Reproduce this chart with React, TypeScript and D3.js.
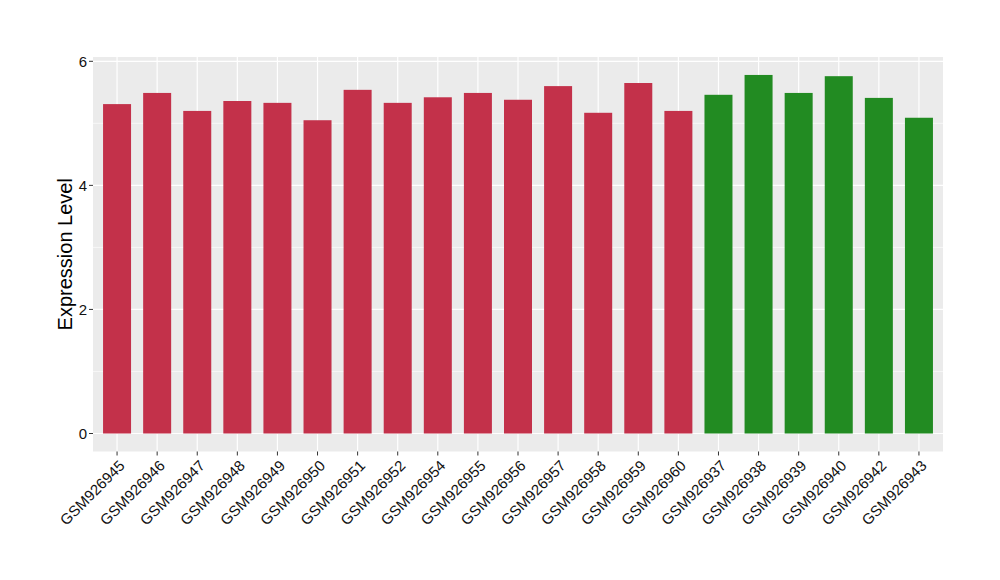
import React from "react";
import * as d3 from "d3";

const categories = ["GSM926945","GSM926946","GSM926947","GSM926948","GSM926949","GSM926950","GSM926951","GSM926952","GSM926954","GSM926955","GSM926956","GSM926957","GSM926958","GSM926959","GSM926960","GSM926937","GSM926938","GSM926939","GSM926940","GSM926942","GSM926943"];
const values = [5.31,5.49,5.20,5.36,5.33,5.05,5.54,5.33,5.42,5.49,5.38,5.60,5.17,5.65,5.20,5.46,5.78,5.49,5.76,5.41,5.09];
const groups = ["a","a","a","a","a","a","a","a","a","a","a","a","a","a","a","b","b","b","b","b","b"];
const groupColors: Record<string, string> = { a: "#C3314A", b: "#228B22" };
const yTicks = [0, 2, 4, 6];
const yMinor = [1, 3, 5];

export default function App() {
  const W = 1000, H = 580;
  const left = 93, right = 943, top = 57, bottom = 451.5;
  const n = categories.length;
  const step = (right - left) / (n + 0.2);
  const x = d3.scaleBand<string>().domain(categories).range([left + 0.6 * step - step / 2, right - 0.6 * step + step / 2]).paddingInner(0.3).paddingOuter(0.15);
  const y = d3.scaleLinear().domain([0, 6]).range([433.5, 61.3]);
  const cx = (c: string) => (x(c) as number) + x.bandwidth() / 2;
  const font = "Liberation Sans, Arial, Helvetica, sans-serif";
  return (
    <svg width={W} height={H} style={{ position: "absolute", left: 0, top: 0 }} fontFamily={font}>
      <rect x={0} y={0} width={W} height={H} fill="#fff" />
      <rect x={left} y={top} width={right - left} height={bottom - top} fill="#EBEBEB" />
      {yMinor.map(v => (
        <line key={"m" + v} x1={left} x2={right} y1={y(v)} y2={y(v)} stroke="#fff" strokeWidth={0.6} />
      ))}
      {yTicks.map(v => (
        <line key={"g" + v} x1={left} x2={right} y1={y(v)} y2={y(v)} stroke="#fff" strokeWidth={1.2} />
      ))}
      {categories.map(c => (
        <line key={"v" + c} x1={cx(c)} x2={cx(c)} y1={top} y2={bottom} stroke="#fff" strokeWidth={1.2} />
      ))}
      {categories.map((c, i) => (
        <rect key={c} x={cx(c) - 14} width={28} y={y(values[i])} height={y(0) - y(values[i])} fill={groupColors[groups[i]]} />
      ))}
      {yTicks.map(v => (
        <g key={"t" + v}>
          <line x1={left - 4} x2={left} y1={y(v)} y2={y(v)} stroke="#333" strokeWidth={1} />
          <text x={left - 6} y={y(v)} dy="0.36em" textAnchor="end" fontSize={15} fill="#111">{v}</text>
        </g>
      ))}
      {categories.map(c => (
        <g key={"x" + c}>
          <line x1={cx(c)} x2={cx(c)} y1={bottom} y2={bottom + 4} stroke="#333" strokeWidth={1} />
          <text transform={`translate(${cx(c) + 1},${bottom + 7.5}) rotate(-45)`} textAnchor="end" dy="0.72em" fontSize={15} fill="#111">{c}</text>
        </g>
      ))}
      <text transform={`translate(72,${(top + bottom) / 2}) rotate(-90)`} textAnchor="middle" fontSize={20} fill="#000">Expression Level</text>
    </svg>
  );
}
